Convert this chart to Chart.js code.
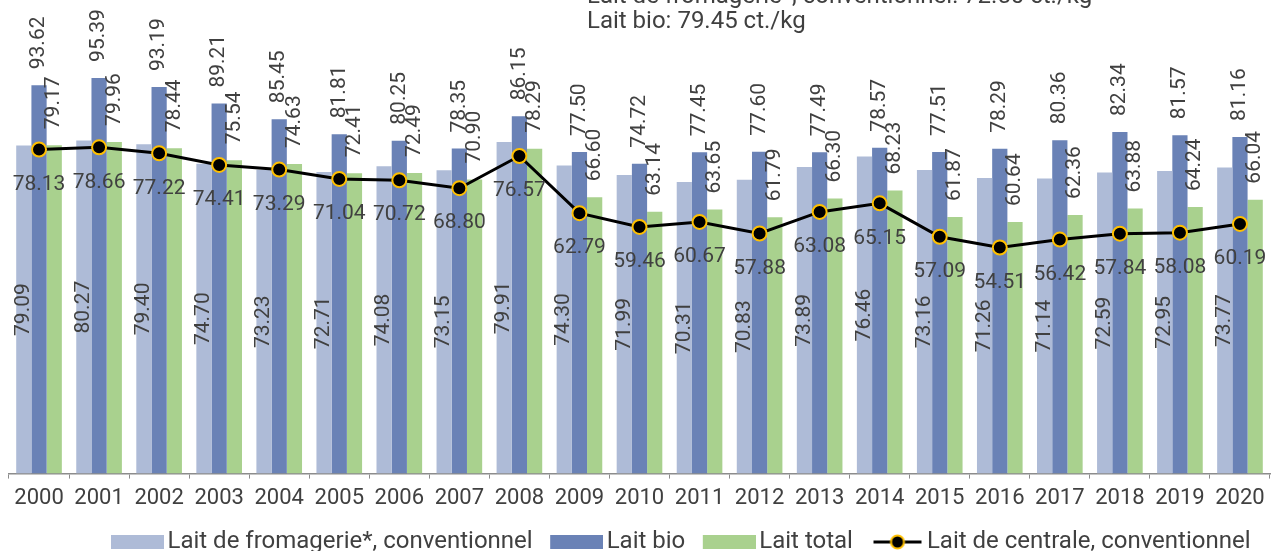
<!DOCTYPE html>
<html>
<head>
<meta charset="utf-8">
<script src="https://cdn.jsdelivr.net/npm/chart.js@4.4.1/dist/chart.umd.min.js"></script>
<style>
  html, body { margin: 0; padding: 0; background: #fff; }
  #wrap { width: 1279px; height: 551px; }
</style>
</head>
<body>
<div id="wrap"><canvas id="milkChart" width="1279" height="551"></canvas></div>
<script>
// valeurs en ct./kg
const years = ['2000', '2001', '2002', '2003', '2004', '2005', '2006', '2007', '2008', '2009', '2010',
               '2011', '2012', '2013', '2014', '2015', '2016', '2017', '2018', '2019', '2020'];
const laitFromagerie = [79.09, 80.27, 79.40, 74.70, 73.23, 72.71, 74.08, 73.15, 79.91, 74.30, 71.99,
                        70.31, 70.83, 73.89, 76.46, 73.16, 71.26, 71.14, 72.59, 72.95, 73.77];
const laitBio = [93.62, 95.39, 93.19, 89.21, 85.45, 81.81, 80.25, 78.35, 86.15, 77.50, 74.72,
                 77.45, 77.60, 77.49, 78.57, 77.51, 78.29, 80.36, 82.34, 81.57, 81.16];
const laitTotal = [79.17, 79.96, 78.44, 75.54, 74.63, 72.41, 72.49, 70.90, 78.29, 66.60, 63.14,
                   63.65, 61.79, 66.30, 68.23, 61.87, 60.64, 62.36, 63.88, 64.24, 66.04];
const laitCentrale = [78.13, 78.66, 77.22, 74.41, 73.29, 71.04, 70.72, 68.80, 76.57, 62.79, 59.46,
                      60.67, 57.88, 63.08, 65.15, 57.09, 54.51, 56.42, 57.84, 58.08, 60.19];
const noteLines = ['Lait de fromagerie*, conventionnel: 72.50 ct./kg', 'Lait bio: 79.45 ct./kg'];

const FONT = 'Roboto, "Noto Sans", sans-serif';
const TEXT = '#404040';
const LEGEND_SHIFT = 35;

// image pour la légende : zone vide à gauche, puis rectangle ou ligne avec marqueur
function legendSwatch(color, isLine) {
    const c = document.createElement('canvas');
    c.width = 68;
    c.height = 18;
    const g = c.getContext('2d');
    const x0 = 15;
    if (isLine) {
        g.strokeStyle = '#000';
        g.lineWidth = 3;
        g.beginPath(); g.moveTo(x0 + 3, 9); g.lineTo(x0 + 51, 9); g.stroke();
        g.beginPath(); g.arc(x0 + 27, 9, 6.5, 0, Math.PI * 2);
        g.fillStyle = '#000'; g.fill();
        g.strokeStyle = '#FFC000'; g.lineWidth = 2; g.stroke();
    } else {
        g.fillStyle = color;
        g.fillRect(x0, 2, 53, 14);
    }
    return c;
}

const valueLabels = {
    id: 'valueLabels',
    afterDatasetsDraw(chart) {
        const ctx = chart.ctx;
        ctx.save();
        ctx.font = '21px ' + FONT;
        ctx.fillStyle = TEXT;
        chart.data.datasets.forEach((ds, i) => {
            const meta = chart.getDatasetMeta(i);
            meta.data.forEach((el, j) => {
                const txt = ds.data[j].toFixed(2);
                if (ds.type === 'line') {
                    ctx.textAlign = 'center';
                    ctx.textBaseline = 'middle';
                    ctx.fillText(txt, el.x, el.y + 35);
                    return;
                }
                ctx.save();
                if (i === 0) {
                    ctx.translate(el.x, (el.y + el.base) / 2);
                    ctx.rotate(-Math.PI / 2);
                    ctx.textAlign = 'center';
                } else {
                    ctx.translate(el.x, el.y - 16);
                    ctx.rotate(-Math.PI / 2);
                    ctx.textAlign = 'left';
                }
                ctx.textBaseline = 'middle';
                ctx.fillText(txt, 0, 0);
                ctx.restore();
            });
        });
        ctx.restore();
    }
};

const topNote = {
    id: 'topNote',
    afterDraw(chart) {
        const ctx = chart.ctx;
        ctx.save();
        ctx.font = '24px ' + FONT;
        ctx.fillStyle = TEXT;
        ctx.textAlign = 'left';
        ctx.textBaseline = 'alphabetic';
        ctx.fillText(noteLines[0], 587, 3);
        ctx.fillText(noteLines[1], 587, 28);
        ctx.restore();
    }
};

// décale la légende horizontalement
const legendShift = {
    id: 'legendShift',
    afterLayout(chart) {
        chart.legend.left += LEGEND_SHIFT;
        chart.legend.right += LEGEND_SHIFT;
    }
};

const ctx = document.getElementById('milkChart').getContext('2d');
const milkChart = new Chart(ctx, {
    type: 'bar',
    data: {
        labels: years,
        datasets: [{
            label: 'Lait de fromagerie*, conventionnel',
            data: laitFromagerie,
            backgroundColor: '#AEBBD7',
            order: 1
        }, {
            label: 'Lait bio',
            data: laitBio,
            backgroundColor: '#6A82B6',
            order: 1
        }, {
            label: 'Lait total',
            data: laitTotal,
            backgroundColor: '#A9D18E',
            order: 1
        }, {
            type: 'line',
            label: 'Lait de centrale, conventionnel',
            data: laitCentrale,
            borderColor: '#000',
            borderWidth: 3,
            pointRadius: 7,
            pointBackgroundColor: '#000',
            pointBorderColor: '#FFC000',
            pointBorderWidth: 2,
            tension: 0,
            order: 0
        }]
    },
    options: {
        responsive: false,
        animation: false,
        layout: { padding: { left: 8, right: 2, top: 0, bottom: -13 } },
        datasets: {
            bar: { categoryPercentage: 0.76, barPercentage: 1.0 }
        },
        plugins: {
            legend: {
                position: 'bottom',
                labels: {
                    font: { family: FONT, size: 24 },
                    color: TEXT,
                    usePointStyle: true,
                    pointStyleWidth: 51,
                    padding: 11,
                    generateLabels(chart) {
                        return chart.data.datasets.map((ds, i) => ({
                            text: ds.label,
                            pointStyle: legendSwatch(ds.backgroundColor, ds.type === 'line'),
                            fillStyle: ds.backgroundColor,
                            strokeStyle: 'transparent',
                            lineWidth: 0,
                            hidden: false,
                            datasetIndex: i,
                            fontColor: TEXT
                        }));
                    }
                }
            },
            tooltip: { enabled: false }
        },
        scales: {
            x: {
                grid: {
                    display: true,
                    drawOnChartArea: false,
                    drawTicks: true,
                    tickLength: 5,
                    offset: true,
                    color: '#8C8C8C'
                },
                border: { display: true, color: '#8C8C8C', width: 1.5 },
                ticks: {
                    font: { family: FONT, size: 22 },
                    color: TEXT,
                    autoSkip: false,
                    maxRotation: 0,
                    padding: 7
                }
            },
            y: {
                display: false,
                min: 0,
                max: 112
            }
        }
    },
    plugins: [valueLabels, topNote, legendShift]
});
</script>
</body>
</html>
